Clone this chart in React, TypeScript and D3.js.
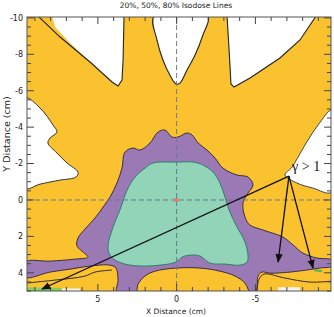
import React from "react";
import * as d3 from "d3";

// axes (cm) - the x axis runs from +x on the left to -x on the right
const xDomain = [9.5, -9.8];
const yDomain = [-10.05, 5];
const xTickLabels = [5, 0, -5];
const yTickLabels = [-10, -8, -6, -4, -2, 0, 2, 4];

// regions below the 20% isodose (white), [x, y] in cm
const lowTopLeft = [[7.91, -10.1], [3.34, -10.1], [3.40, -7.69], [3.47, -6.59], [3.72, -6.26], [4.10, -6.48], [5.50, -7.58], [6.77, -8.62], [7.72, -9.50]];
const lowTopMid = [[1.43, -10.1], [1.25, -8.79], [0.87, -7.69], [0.43, -6.86], [0.04, -6.37], [-0.21, -6.42], [-0.66, -7.14], [-1.17, -7.96], [-1.67, -9.06], [-1.99, -10.1]];
const lowTopRight = [[-3.20, -10.1], [-3.33, -8.24], [-3.45, -6.37], [-3.64, -6.20], [-4.66, -6.70], [-6.56, -7.80], [-7.83, -8.79], [-8.85, -10.1]];
const lowLeft = [[9.6, -5.60], [8.67, -5.05], [7.85, -4.12], [7.60, -3.73], [8.04, -3.40], [8.17, -3.13], [7.60, -2.58], [6.96, -2.03], [6.26, -1.53], [6.39, -1.26], [7.40, -1.09], [8.67, -0.87], [9.6, -0.65]];
const lowRight = [[-9.85, -4.94], [-8.98, -4.12], [-8.34, -3.29], [-7.96, -2.74], [-7.33, -1.81], [-6.88, -1.37], [-7.64, -0.93], [-8.66, -0.65], [-9.85, -0.43]];
// 20% line drawn beside the top-left white wedge
const line20TopLeft = [[8.80, -10.1], [7.40, -8.95], [5.50, -7.58], [4.10, -6.48], [3.72, -6.26], [3.47, -6.59], [3.40, -7.69], [3.34, -10.1]];

// 50% isodose region (purple)
const iso50 = [
  [3.28, -2.63], [2.77, -2.85], [2.33, -2.74], [1.69, -3.13], [1.18, -3.73], [0.74, -3.84], [0.30, -3.46],
  [-0.10, -3.46], [-0.66, -3.68], [-0.98, -3.57], [-1.36, -3.13], [-1.93, -2.74], [-2.44, -2.30], [-2.94, -1.75],
  [-3.83, -1.37], [-4.53, -1.26], [-4.85, -0.82], [-4.53, -0.38], [-4.21, 0.17], [-4.34, 0.94], [-4.66, 1.38],
  [-5.48, 1.65], [-6.75, 2.04], [-7.39, 2.47], [-8.02, 2.92], [-8.91, 3.19], [-9.85, 3.30], [-9.85, 3.63],
  [-9.10, 3.74], [-7.20, 3.96], [-5.93, 4.02], [-5.42, 3.96], [-5.17, 4.18], [-5.04, 5.05], [-4.66, 5.05],
  [-4.34, 4.57], [-3.71, 4.18], [-2.75, 3.91], [-1.48, 3.74], [0.04, 3.74], [1.37, 3.91], [2.01, 4.18],
  [2.45, 4.62], [2.58, 5.05], [3.79, 5.05], [3.72, 4.40], [3.85, 3.74], [4.23, 3.58], [5.50, 3.63],
  [6.77, 3.80], [8.04, 3.96], [9.6, 4.24], [9.6, 3.41], [8.04, 3.36], [6.45, 3.25], [5.63, 3.14],
  [5.94, 2.86], [6.33, 2.52], [6.26, 2.09], [5.82, 1.60], [5.18, 0.99], [4.67, 0.39], [4.23, -0.16],
  [3.79, -0.93], [3.47, -1.75],
];

// 80% isodose region (green)
const iso80 = [
  [4.23, 3.03], [4.36, 2.58], [4.04, 1.49], [3.60, 0.55], [3.15, -0.54], [2.64, -1.26], [2.01, -1.75],
  [1.50, -2.03], [-0.03, -2.08], [-1.04, -2.08], [-1.67, -1.92], [-2.31, -1.53], [-2.75, -0.93], [-3.07, -0.16],
  [-3.33, 0.55], [-3.77, 1.38], [-4.34, 2.31], [-4.53, 3.03], [-4.47, 3.41], [-4.02, 3.58], [-3.07, 3.52],
  [-2.12, 3.47], [-1.48, 3.08], [-0.85, 3.03], [-0.34, 3.14], [0.04, 3.41], [1.06, 3.58], [2.33, 3.63],
  [3.28, 3.52], [3.91, 3.30],
];

// low dose lines inside the bottom yellow areas
const line20BottomLeft = [[9.6, 4.57], [7.72, 4.40], [5.82, 4.18], [5.18, 3.96], [4.10, 3.85]];
const line20BottomRight = [[-5.10, 5.05], [-5.23, 4.35], [-5.55, 4.07], [-6.88, 4.29], [-8.47, 4.51], [-9.85, 4.46]];
const greenStrip = [[9.6, 4.79], [7.28, 4.84], [7.28, 5.1], [9.6, 5.1]];
const whiteBits = [
  [[7.28, 4.86], [6.13, 4.86], [6.13, 5.1], [7.28, 5.1]],
  [[-6.44, 4.79], [-7.83, 4.79], [-7.83, 5.1], [-6.44, 5.1]],
];
const greenDash = [[-8.72, 3.85], [-9.23, 3.91]];

// gamma annotation
const arrowHub = [-7.13, -1.31];
const arrowTargets = [[8.55, 4.89], [-6.44, 3.41], [-8.66, 3.74]];
const gammaLabel = { x: -7.33, y: -1.6, text: "γ > 1" };

const YELLOW = "#fac22f";
const PURPLE = "#9b79b4";
const GREEN = "#91d4b8";

export default function App() {
  const x = d3.scaleLinear().domain(xDomain).range([27, 331]);
  const y = d3.scaleLinear().domain(yDomain).range([17, 291]);
  const [x0, x1] = x.range();
  const [y0, y1] = y.range();

  const smooth = d3.line<number[]>().x(d => x(d[0])).y(d => y(d[1])).curve(d3.curveCatmullRomClosed.alpha(0.5));
  const straight = d3.line<number[]>().x(d => x(d[0])).y(d => y(d[1])).curve(d3.curveLinearClosed);
  const open = d3.line<number[]>().x(d => x(d[0])).y(d => y(d[1])).curve(d3.curveCatmullRom.alpha(0.5));
  const seg = d3.line<number[]>().x(d => x(d[0])).y(d => y(d[1]));

  const xTicks = d3.range(-9, 10, 1);
  const yTicks = d3.range(-10, 5.01, 0.5);
  const font = "DejaVu Sans, Verdana, sans-serif";

  return (
    <svg width={334} height={317} style={{ position: "absolute", left: 0, top: 0, background: "#fff" }}>
      <defs>
        <clipPath id="plot">
          <rect x={x0} y={y0} width={x1 - x0} height={y1 - y0} />
        </clipPath>
        <marker id="head" viewBox="0 0 10 10" refX="9" refY="5" markerWidth="7" markerHeight="7" orient="auto">
          <path d="M0,1 L10,5 L0,9 Z" fill="#111" />
        </marker>
      </defs>

      <g clipPath="url(#plot)">
        <rect x={x0} y={y0} width={x1 - x0} height={y1 - y0} fill={YELLOW} />
        <path d={straight(lowTopLeft)!} fill="#fff" />
        <path d={line20TopLeft.length ? seg(line20TopLeft)! : ""} fill="none" stroke="#222" strokeWidth={1.1} />
        <path d={smooth(lowTopMid)!} fill="#fff" stroke="#222" strokeWidth={1.1} />
        <path d={straight(lowTopRight)!} fill="#fff" stroke="#222" strokeWidth={1.1} />
        <path d={smooth(lowLeft)!} fill="#fff" stroke="#333" strokeWidth={1} />
        <path d={smooth(lowRight)!} fill="#fff" stroke="#444" strokeWidth={1} />

        <path d={smooth(iso50)!} fill={PURPLE} stroke="#3a2c45" strokeWidth={1} />
        <path d={smooth(iso80)!} fill={GREEN} stroke="#2f7d6c" strokeWidth={1} />

        <path d={open(line20BottomLeft)!} fill="none" stroke="#3a2a1a" strokeWidth={1} />
        <path d={open(line20BottomRight)!} fill="none" stroke="#3a2a1a" strokeWidth={1} />
        <path d={straight(greenStrip)!} fill="#86cf5a" />
        {whiteBits.map((b, i) => <path key={i} d={straight(b)!} fill="#f4f4f0" />)}
        <path d={seg(greenDash)!} stroke="#5bb050" strokeWidth={2} />

        <line x1={x(0)} x2={x(0)} y1={y0} y2={y1} stroke="#6a7890" strokeWidth={1} strokeDasharray="5,3" />
        <line x1={x0} x2={x1} y1={y(0)} y2={y(0)} stroke="#6a7890" strokeWidth={1} strokeDasharray="5,3" />
        <rect x={x(0) - 2} y={y(0) - 2} width={4} height={4} fill="#d9806a" />
      </g>

      {/* frame and ticks */}
      <rect x={x0} y={y0} width={x1 - x0} height={y1 - y0} fill="none" stroke="#555" strokeWidth={1} />
      {xTicks.map(t => {
        const len = xTickLabels.includes(t) ? 7 : 4;
        return (
          <g key={"x" + t} stroke="#444" strokeWidth={1}>
            <line x1={x(t)} x2={x(t)} y1={y1} y2={y1 - len} />
            <line x1={x(t)} x2={x(t)} y1={y0} y2={y0 + len} />
          </g>
        );
      })}
      {yTicks.map(t => {
        const len = Math.abs(t % 2) < 1e-6 ? 7 : 4;
        return (
          <g key={"y" + t} stroke="#444" strokeWidth={1}>
            <line x1={x0} x2={x0 + len} y1={y(t)} y2={y(t)} />
            <line x1={x1} x2={x1 - len} y1={y(t)} y2={y(t)} />
          </g>
        );
      })}
      {xTickLabels.map(t => (
        <text key={"xl" + t} x={x(t)} y={302} textAnchor="middle" fontFamily={font} fontSize={8} fill="#222">{t}</text>
      ))}
      {yTickLabels.map(t => (
        <text key={"yl" + t} x={23} y={y(t)} dy="0.35em" textAnchor="end" fontFamily={font} fontSize={8} fill="#222">{t}</text>
      ))}

      <text x={176} y={8} textAnchor="middle" fontFamily={font} fontSize={7.5} fill="#222">20%, 50%, 80% Isodose Lines</text>
      <text x={176} y={314} textAnchor="middle" fontFamily={font} fontSize={7.5} fill="#222">X Distance (cm)</text>
      <text transform="translate(10,134) rotate(-90)" textAnchor="middle" fontFamily={font} fontSize={9.5} fill="#222">Y Distance (cm)</text>

      {/* gamma > 1 annotation */}
      {arrowTargets.map((t, i) => (
        <line key={"a" + i} x1={x(arrowHub[0])} y1={y(arrowHub[1])} x2={x(t[0])} y2={y(t[1])}
          stroke="#111" strokeWidth={1.3} markerEnd="url(#head)" />
      ))}
      <text x={x(gammaLabel.x)} y={y(gammaLabel.y)} fontFamily="Liberation Serif, DejaVu Serif, serif" fontSize={14} fill="#111">{gammaLabel.text}</text>
    </svg>
  );
}
